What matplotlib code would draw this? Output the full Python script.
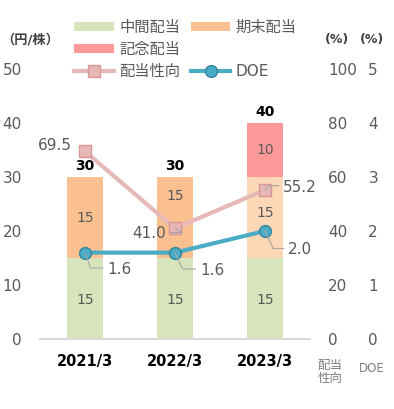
import matplotlib
matplotlib.use("Agg")
import matplotlib.pyplot as plt
from matplotlib.patches import Patch
from matplotlib.lines import Line2D
import numpy as np

plt.rcParams['font.family'] = ['DejaVu Sans', 'Noto Sans CJK JP']

categories = ['2021/3', '2022/3', '2023/3']
interim = [15, 15, 15]
year_end = [15, 15, 15]
commemorative = [0, 0, 10]
totals = [30, 30, 40]
payout_ratio = [69.5, 41.0, 55.2]
doe = [1.6, 1.6, 2.0]

GRAY = '#595959'
C_GREEN = '#d8e4bc'
C_ORANGE = '#fac090'
C_ORANGE_L = '#fdd7b6'
C_PINK = '#ff9999'
C_LINE_P = '#e6b9b8'
C_LINE_P_E = '#d99694'
C_DOE = '#4bacc6'
C_DOE_E = '#31849b'

fig = plt.figure(figsize=(3.94, 4.09), dpi=100)
ax = fig.add_axes([40/394, 1-339/409, 270/394, 270/409])
x = np.arange(len(categories))
w = 0.4

orange_cols = [C_ORANGE, C_ORANGE, C_ORANGE_L]
ax.bar(x, interim, w, color=C_GREEN, edgecolor='none')
ax.bar(x, year_end, w, bottom=interim, color=orange_cols, edgecolor='none')
ax.bar(x, commemorative, w, bottom=np.add(interim, year_end), color=C_PINK, edgecolor='none')

# label positions (in value units) as placed in the reference
green_pos = [7.2, 7.2, 7.2]
ye_pos = [22.4, 26.5, 23.3]
for i in range(len(x)):
    ax.text(x[i], green_pos[i], f'{interim[i]}', ha='center', va='center', fontsize=10, color=GRAY)
    ax.text(x[i], ye_pos[i], f'{year_end[i]}', ha='center', va='center', fontsize=10, color=GRAY)
    if commemorative[i]:
        ax.text(x[i], interim[i] + year_end[i] + commemorative[i]/2, f'{commemorative[i]}',
                ha='center', va='center', fontsize=10, color=GRAY)
    ax.annotate(f'{totals[i]}', (x[i], totals[i]), xytext=(0, 3), textcoords='offset points',
                ha='center', va='bottom', fontsize=10, fontweight='bold', color='black')

ax.set_xlim(-0.5, 2.5)
ax.set_ylim(0, 50)
ax.set_yticks(range(0, 51, 10))
ax.set_xticks(x)
ax.set_xticklabels(categories, fontsize=10.5, fontweight='bold', color='black')
ax.tick_params(axis='y', length=0, pad=13, labelsize=11, labelcolor=GRAY)
ax.tick_params(axis='x', length=0, pad=11)
for s in ['top', 'right', 'left']:
    ax.spines[s].set_visible(False)
ax.spines['bottom'].set_color('#d9d9d9')
ax.spines['bottom'].set_linewidth(1.5)

ax2 = ax.twinx()
ax2.set_ylim(0, 100)
ax2.set_yticks(range(0, 101, 20))
ax2.tick_params(axis='y', length=0, pad=13, labelsize=11, labelcolor=GRAY)
for s in ax2.spines.values():
    s.set_visible(False)
ax2.plot(x, payout_ratio, color=C_LINE_P, lw=3, marker='s', ms=8,
         mfc=C_LINE_P, mec=C_LINE_P_E, mew=1, zorder=3)

ax3 = ax.twinx()
ax3.set_ylim(0, 5)
ax3.set_yticks(range(0, 6))
ax3.tick_params(axis='y', length=0, pad=42, labelsize=11, labelcolor=GRAY)
for s in ax3.spines.values():
    s.set_visible(False)
ax3.plot(x, doe, color=C_DOE, lw=3, marker='o', ms=8.5,
         mfc=C_DOE, mec=C_DOE_E, mew=1, zorder=3)

lead = dict(arrowstyle='-', color='#a6a6a6', lw=0.8, shrinkA=1, shrinkB=0)
# payout ratio labels
ax2.annotate(f'{payout_ratio[0]:.1f}', (x[0], payout_ratio[0]), xytext=(-13, 6),
             textcoords='offset pixels', ha='right', va='center', fontsize=11, color=GRAY)
ax2.annotate(f'{payout_ratio[1]:.1f}', (x[1], payout_ratio[1]), xytext=(-9, -5),
             textcoords='offset pixels', ha='right', va='center', fontsize=11, color=GRAY,
             arrowprops=dict(lead, relpos=(1, 0.55), connectionstyle='angle,angleA=0,angleB=-30,rad=0'))
ax2.annotate(f'{payout_ratio[2]:.1f}', (x[2], payout_ratio[2]), xytext=(18, 2),
             textcoords='offset pixels', ha='left', va='center', fontsize=11, color=GRAY,
             arrowprops=dict(lead, relpos=(0, 0.65), connectionstyle='angle,angleA=0,angleB=45,rad=0'))
# DOE labels
doe_off = [(22, -17), (25, -18), (23, -19)]
doe_ang = [-70, -65, -65]
for i in range(len(x)):
    ax3.annotate(f'{doe[i]:.1f}', (x[i], doe[i]), xytext=doe_off[i],
                 textcoords='offset pixels', ha='left', va='center', fontsize=11, color=GRAY,
                 arrowprops=dict(lead, relpos=(0, 0.6),
                                 connectionstyle=f'angle,angleA=0,angleB={doe_ang[i]},rad=0'))

# headers
fig.text(30/394, 1-40/409, '（円/株）', ha='center', va='center', fontsize=9.5, fontweight='bold', color='#404040')
fig.text(337/394, 1-40/409, '(%)', ha='center', va='center', fontsize=9, fontweight='bold', color='#404040')
fig.text(372/394, 1-40/409, '(%)', ha='center', va='center', fontsize=9, fontweight='bold', color='#404040')
fig.text(330/394, 1-372/409, '配当\n性向', ha='center', va='center', fontsize=9, color='#7f7f7f', linespacing=0.95)
fig.text(372/394, 1-369/409, 'DOE', ha='center', va='center', fontsize=8.5, color='#7f7f7f')

handles = [
    Patch(facecolor=C_GREEN, edgecolor='none', label='中間配当'),
    Patch(facecolor=C_PINK, edgecolor='none', label='記念配当'),
    Line2D([], [], color=C_LINE_P, lw=3, marker='s', ms=8, mfc=C_LINE_P, mec=C_LINE_P_E, label='配当性向'),
    Patch(facecolor=C_ORANGE, edgecolor='none', label='期末配当'),
    Patch(facecolor='none', edgecolor='none', label=''),
    Line2D([], [], color=C_DOE, lw=3, marker='o', ms=8.5, mfc=C_DOE, mec=C_DOE_E, label='DOE'),
]
fig.legend(handles=handles, ncol=2, loc='upper left', bbox_to_anchor=(74/394, 1-20/409),
           frameon=False, fontsize=11, handlelength=2.6, handleheight=0.55, handletextpad=0.35,
           columnspacing=0.7, labelspacing=0.45, borderpad=0, borderaxespad=0, labelcolor=GRAY)

fig.savefig('out.png', dpi=100)
